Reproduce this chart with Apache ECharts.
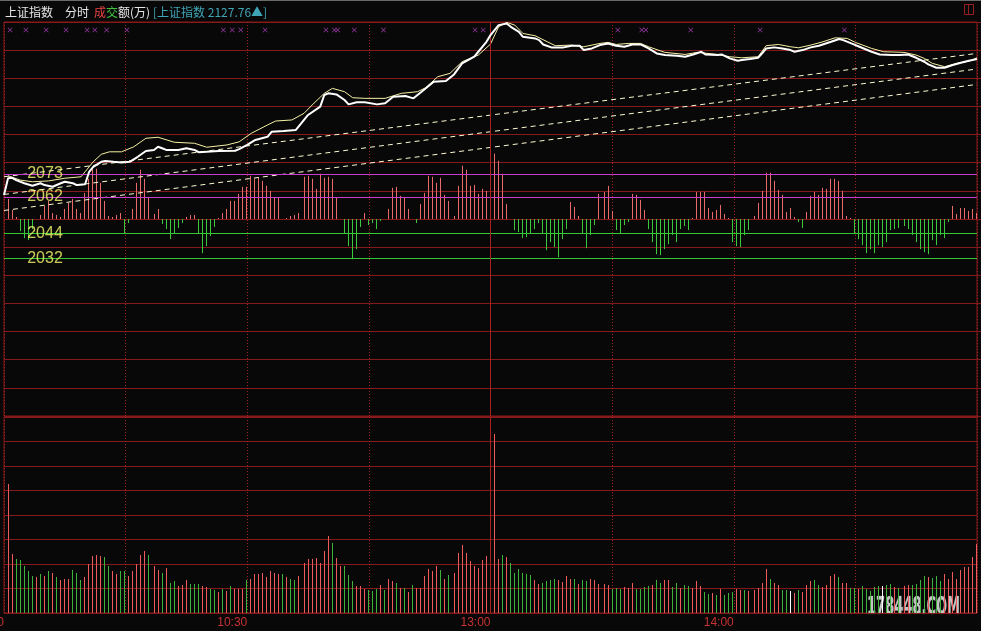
<!DOCTYPE html>
<html><head><meta charset="utf-8">
<script src="https://cdn.jsdelivr.net/npm/echarts@6/dist/echarts.min.js"></script>
<style>html,body{margin:0;padding:0;background:#080808;}#c{width:981px;height:631px;}</style>
</head><body><div id="c"></div>
<script>
// ---- data ----
const prevClose = 2050.9;
const dayHigh = 2145.6;
const tickLabels = ['9:30','','10:30','','13:00','','14:00','',''];

const priceMin = [0,1,2,3,5,7,9,10,12,14,15,17,18,20,21,22,24,25,27,29,31,33,35,37,38,39,40,43,45,47,48,50,53,57,58,60,62,65,66,69,72,73,75,78,79,80,82,84,85,87,89,92,94,96,99,101,103,106,109,111,113,116,117,119,120,121,122,124,125,127,128,131,132,133,135,138,140,142,143,145,147,149,151,153,155,157,159,161,163,166,168,170,172,173,176,177,179,181,182,184,186,187,188,190,192,194,195,197,199,201,204,206,207,209,211,214,216,219,221,223,225,227,228,230,232,234,236,238,240];
const priceVal = [2062.4,2070.5,2070.7,2069.6,2068.1,2066.9,2068.1,2067.2,2066.4,2068.1,2068.8,2068.1,2067.2,2067.6,2073.6,2076.0,2078.4,2078.8,2078.4,2078.1,2078.4,2080.8,2083.6,2084.1,2085.6,2084.9,2084.1,2084.1,2084.9,2084.1,2083.0,2083.2,2083.6,2083.7,2084.5,2086.5,2088.9,2090.4,2092.8,2093.2,2093.7,2096.1,2100.9,2104.9,2110.5,2111.3,2110.8,2108.1,2106.0,2107.0,2107.0,2106.0,2106.5,2109.7,2110.0,2108.9,2112.1,2116.9,2117.2,2120.4,2125.7,2128.9,2131.3,2136.1,2139.3,2141.7,2144.1,2144.9,2143.3,2140.9,2138.5,2137.7,2136.9,2134.8,2133.4,2133.4,2134.2,2134.2,2132.1,2132.9,2134.5,2135.3,2134.2,2133.7,2134.8,2134.8,2132.9,2130.5,2129.7,2129.4,2128.9,2130.0,2131.3,2130.0,2129.7,2130.0,2128.1,2127.0,2127.3,2127.8,2128.4,2130.5,2132.9,2133.4,2132.9,2132.1,2131.3,2132.1,2133.4,2134.2,2136.1,2137.4,2136.9,2135.3,2133.7,2131.3,2130.0,2129.7,2129.7,2130.0,2128.4,2126.5,2125.2,2123.6,2123.6,2124.9,2126.0,2127.0,2127.76];

const lineMin = [1,4,7,11,15,19,20,22,24,26,29,32,35,38,42,47,50,55,58,61,65,67,71,74,76,79,81,84,86,89,94,98,102,104,107,110,113,117,120,122,124,126,128,131,134,136,140,143,147,149,151,154,157,159,163,168,171,176,179,182,186,188,191,194,196,199,202,205,208,210,214,217,222,225,227,229,232,235,238,240];
const lineVal = [2071.7,2069.6,2068.8,2069.2,2070.5,2071.2,2073.6,2078.4,2082.0,2083.2,2083.2,2085.6,2089.7,2090.2,2087.8,2087.3,2085.4,2086.5,2088.0,2092.1,2096.1,2098.0,2098.5,2101.7,2105.7,2111.3,2113.7,2112.1,2109.2,2108.9,2108.9,2111.3,2112.1,2114.0,2119.3,2120.9,2126.5,2129.7,2135.0,2143.3,2145.4,2144.1,2140.1,2139.0,2136.1,2134.2,2134.5,2133.7,2135.3,2135.8,2134.8,2135.3,2135.3,2133.7,2131.0,2130.0,2131.0,2130.0,2128.9,2128.4,2128.9,2134.2,2134.8,2133.7,2133.2,2134.5,2136.1,2138.0,2137.7,2135.8,2132.9,2131.3,2131.0,2129.7,2128.1,2125.7,2124.1,2125.7,2126.8,2128.4];

const trendStart = [2071.2, 2062.7, 2055.0];
const trendEnd   = [2130.5, 2123.0, 2115.6];

const levels = [2072.5, 2061.5, 2044, 2032];
const levelKind = ['up','up','down','down'];

// red/green indicator bars, minute 0..240
const indicator = [
0,20,9,2,-12,-19,-21,-10,0,4,
13,18,6,4,2,10,16,20,10,6,
26,40,51,50,36,18,3,2,4,6,
-14,-4,10,36,49,40,21,5,10,-5,
-10,-20,-14,-9,-4,2,4,4,-15,-34,
-27,-17,-8,1,6,10,18,18,25,32,
32,43,40,41,38,33,28,21,21,0,
1,3,4,6,42,43,40,30,45,41,
42,40,21,0,-14,-27,-40,-30,-8,6,
-6,-4,-10,-2,0,10,31,32,23,21,
10,0,-4,15,26,43,42,36,41,24,
18,3,33,53,49,33,34,25,30,28,
38,65,58,45,15,0,-11,-13,-19,-18,
-15,-10,-4,-15,-31,-23,-28,-38,-20,-10,
17,12,3,-15,-29,-16,-6,25,27,33,
8,-11,-15,-6,-3,25,24,19,9,-10,
-23,-35,-36,-30,-25,-16,-23,-10,-7,-11,
1,27,27,27,11,7,9,14,5,1,
-23,-27,-28,-16,-11,3,16,28,46,46,
38,29,24,7,11,2,-3,-9,7,23,
27,24,31,30,40,40,38,28,3,1,
-15,-20,-26,-34,-30,-34,-26,-28,-23,-11,
-10,-9,-7,-10,-16,-23,-30,-33,-35,-21,
-26,-16,-19,-3,13,5,11,11,8,10,
6];

// turnover per minute, minutes 1..240
const volume = [
129,59,54,53,47,42,37,36,39,37,
42,40,36,33,34,34,43,40,33,36,
49,57,58,57,56,47,42,39,42,42,
37,42,49,58,62,58,47,43,40,45,
30,32,27,28,33,29,29,29,27,26,
24,23,21,24,22,27,24,24,24,33,
34,39,39,40,36,42,40,39,39,36,
34,33,37,50,54,54,55,50,62,77,
70,55,47,47,38,32,27,27,24,23,
22,24,28,23,34,32,30,25,25,21,
28,25,25,37,44,42,47,43,34,38,
40,60,68,60,52,47,45,53,57,70,
179,54,58,56,50,40,44,40,39,38,
33,29,30,32,33,34,33,31,37,34,
34,29,33,32,34,33,29,29,28,24,
25,24,26,25,30,24,24,26,27,28,
33,30,33,33,26,30,25,28,27,25,
32,27,21,19,20,18,24,18,20,21,
24,23,23,22,23,25,30,44,34,30,
28,23,23,22,20,23,21,28,32,33,
28,26,28,37,39,36,30,30,25,25,
24,27,24,22,26,27,27,28,29,26,
25,27,28,28,29,33,37,36,35,37,
32,39,34,41,34,43,46,46,56,69];
// 1 = up (red), -1 = down (green), 0 = flat (white)
const volDir = [
1,1,-1,-1,-1,-1,-1,1,-1,1,
-1,1,-1,1,1,1,-1,-1,-1,1,
1,1,1,1,-1,-1,1,1,-1,-1,
1,1,1,1,1,-1,1,1,-1,1,
-1,-1,1,1,1,-1,-1,-1,1,1,
-1,-1,1,-1,1,-1,1,1,1,-1,
1,1,1,1,1,1,1,1,-1,1,
-1,-1,1,1,1,1,1,1,1,1,
-1,1,1,-1,-1,-1,1,1,1,-1,
-1,-1,1,-1,1,1,-1,1,-1,1,
-1,1,1,1,1,1,1,-1,1,-1,
1,1,1,1,1,1,1,1,1,1,
1,1,-1,1,-1,-1,-1,-1,-1,-1,
1,1,-1,-1,-1,-1,1,1,1,1,
-1,1,-1,-1,1,1,1,1,1,-1,
-1,-1,1,1,1,-1,-1,-1,-1,1,
-1,-1,1,1,-1,-1,1,-1,-1,1,
1,1,-1,-1,1,-1,1,-1,-1,-1,
1,1,-1,1,1,1,1,1,-1,1,
1,-1,-1,0,1,-1,1,1,1,-1,
-1,1,1,1,1,-1,1,1,-1,-1,
1,-1,-1,-1,-1,-1,0,-1,-1,1,
-1,1,1,-1,-1,-1,-1,1,-1,-1,
-1,1,1,1,1,1,1,1,1,1];

const markerMin = [1.5,5.4,10.4,15.3,20.5,22.4,25.3,30.3,54.1,56.3,58.4,64.4,79.4,81.5,82.3,86.4,93.6,116.2,118.2,151.4,157.3,158.3,169.4,186.5,207.3];

// ---- chart ----
const GRID = '#861a1a';
const DOT = '#a02222';
const chart = echarts.init(document.getElementById('c'));
const pair = (xs, ys) => xs.map((x, i) => [x, ys[i]]);
const lastPrice = priceVal[priceVal.length - 1];
const xBase = {type:'value', min:0, max:240, interval:30,
  axisLine:{show:false}, axisTick:{show:false}, axisLabel:{show:false},
  splitLine:{show:true, lineStyle:{color:DOT, type:[1,2], width:1}}};
const crossPath = 'path://M0,1L1,0L5,4L9,0L10,1L6,5L10,9L9,10L5,6L1,10L0,9L4,5Z';

// thin 1px sticks drawn through the axes' own scales (snapped to even pixel columns)
function stick(colorOf) {
  return function (params, api) {
    const v = api.value(1);
    if (!v) return null;
    const a = api.coord([api.value(0), 0]);
    const b = api.coord([api.value(0), v]);
    const x = 2 * Math.round((a[0] - 1) / 2) + 0.5;
    return {type:'line', shape:{x1:x, y1:a[1], x2:x, y2:b[1]},
      style:{stroke: colorOf(params.dataIndex, v), lineWidth:1}};
  };
}

const trendSeries = trendStart.map((s, i) => ({
  type:'line', xAxisIndex:0, yAxisIndex:0, data:[[0, s],[240, trendEnd[i]]],
  symbol:'none', silent:true, z:3,
  lineStyle:{color:'#fffad2', width:1, type:[5,4]},
  markLine: i === 0 ? {silent:true, symbol:['none','none'], animation:false, label:{show:false},
    data: levels.map((v, j) => ({yAxis:v, lineStyle:{type:'solid', width:1.2,
      color: levelKind[j] === 'up' ? '#c83cd0' : '#34c834'}}))} : undefined
}));

chart.setOption({
  animation:false,
  backgroundColor:'#080808',
  grid:[
    {left:4, right:4, top:22, height:394, show:true, borderColor:GRID, borderWidth:1, backgroundColor:'transparent', outerBoundsMode:'none', containLabel:false},
    {left:4, right:4, top:417, height:196, show:true, borderColor:GRID, borderWidth:1, backgroundColor:'transparent', outerBoundsMode:'none', containLabel:false},
    {left:4, right:4, top:24, height:12, outerBoundsMode:'none', containLabel:false}
  ],
  xAxis:[
    Object.assign({gridIndex:0}, xBase),
    Object.assign({}, xBase, {gridIndex:1, axisLabel:{show:true, color:'#c83232', fontSize:12,
      fontFamily:'Liberation Sans', align:'right', margin:4, showMinLabel:true, showMaxLabel:true, hideOverlap:false,
      formatter: v => tickLabels[Math.round(v / 30)] || ''}}),
    {gridIndex:2, type:'value', min:0, max:240, show:false}
  ],
  yAxis:[
    {gridIndex:0, type:'value', min:2 * prevClose - dayHigh, max:dayHigh, show:false},
    {gridIndex:0, type:'value', min:-196, max:196, interval:28, position:'right',
      axisLine:{show:false}, axisLabel:{show:false},
      axisTick:{show:true, length:4, lineStyle:{color:GRID}},
      splitLine:{show:true, lineStyle:{color:GRID, width:1}}},
    {gridIndex:1, type:'value', min:0, max:196, interval:24.5, position:'right',
      axisLine:{show:false}, axisLabel:{show:false},
      axisTick:{show:true, length:4, lineStyle:{color:GRID}},
      splitLine:{show:true, lineStyle:{color:GRID, width:1}}},
    {gridIndex:2, type:'value', min:-1, max:1, show:false}
  ],
  series:[
    {type:'custom', coordinateSystem:'cartesian2d', xAxisIndex:0, yAxisIndex:1, silent:true, z:2,
      encode:{x:0, y:1},
      data: indicator.map((v, k) => [k, v]),
      renderItem: stick((i, v) => v > 0 ? '#ea6a6a' : '#3cc83c')},
    ...trendSeries,
    {type:'line', xAxisIndex:0, yAxisIndex:0, data: pair(lineMin, lineVal), symbol:'none', silent:true, z:4,
      lineStyle:{color:'#f6f0a4', width:1}},
    {type:'line', xAxisIndex:0, yAxisIndex:0, data: pair(priceMin, priceVal), symbol:'none', silent:true, z:5,
      lineStyle:{color:'#ffffff', width:2},
      markLine:{silent:true, symbol:['none','none'], label:{show:false},
        data:[{xAxis:120, lineStyle:{color:'#a82020', type:'solid', width:1}}]}},
    {type:'scatter', xAxisIndex:0, yAxisIndex:0, silent:true, z:10, symbolSize:1,
      itemStyle:{color:'rgba(0,0,0,0)'},
      data: levels.map(v => [5.6, v]),
      label:{show:true, position:'right', distance:0, color:'#fafa6e', fontSize:16,
        fontFamily:'Liberation Sans', formatter: p => String(Math.round(p.value[1]))}},
    {type:'custom', coordinateSystem:'cartesian2d', xAxisIndex:1, yAxisIndex:2, silent:true, z:2,
      encode:{x:0, y:1},
      data: volume.map((v, i) => [i + 1, v]),
      renderItem: stick(i => volDir[i] > 0 ? '#f05a5a' : (volDir[i] < 0 ? '#3cb43c' : '#ffffff'))},
    {type:'line', xAxisIndex:1, yAxisIndex:2, data:[], silent:true,
      markLine:{silent:true, symbol:['none','none'], label:{show:false},
        data:[{xAxis:120, lineStyle:{color:'#a82020', type:'solid', width:1}}]}},
    {type:'scatter', xAxisIndex:2, yAxisIndex:3, silent:true, symbol:crossPath, symbolSize:5,
      itemStyle:{color:'#bc44c8'}, data: markerMin.map(m => [m, 0])}
  ],
  graphic:[
    {type:'rect', silent:true, shape:{x:0, y:0, width:981, height:1}, style:{fill:'#6a6a6a'}},
    {type:'text', silent:true, x:5, y:12.5, style:{text:'上证指数', fill:'#e6e6e6', font:'12px "Noto Sans CJK SC"', verticalAlign:'middle'}},
    {type:'text', silent:true, x:65, y:12.5, style:{text:'分时', fill:'#e6e6e6', font:'12px "Noto Sans CJK SC"', verticalAlign:'middle'}},
    {type:'text', silent:true, x:94, y:12.5, style:{text:'成', fill:'#ea4444', font:'12px "Noto Sans CJK SC"', verticalAlign:'middle'}},
    {type:'text', silent:true, x:106, y:12.5, style:{text:'交', fill:'#40c040', font:'12px "Noto Sans CJK SC"', verticalAlign:'middle'}},
    {type:'text', silent:true, x:118, y:12.5, style:{text:'额(万)', fill:'#e6e6e6', font:'12px "Noto Sans CJK SC"', verticalAlign:'middle'}},
    {type:'text', silent:true, x:153, y:12.5, style:{text:'[上证指数 ' + lastPrice.toFixed(2) + '▲]', fill:'#3fa6b6', font:'12px "Noto Sans CJK SC"', verticalAlign:'middle'}},
    {type:'rect', silent:true, shape:{x:964.5, y:4.5, width:9, height:10}, style:{fill:'none', stroke:'#962020', lineWidth:1}},
    {type:'line', silent:true, shape:{x1:968.5, y1:4.5, x2:968.5, y2:14.5}, style:{stroke:'#962020', lineWidth:1}},
    {type:'text', silent:true, x:867, y:595, scaleX:0.58, style:{text:'178448.COM', fill:'rgba(215,215,215,0.9)', stroke:'#2a2a2a', lineWidth:1,
      font:'bold 25px "DejaVu Sans Condensed", "DejaVu Sans"'}}
  ]
});
</script></body></html>
